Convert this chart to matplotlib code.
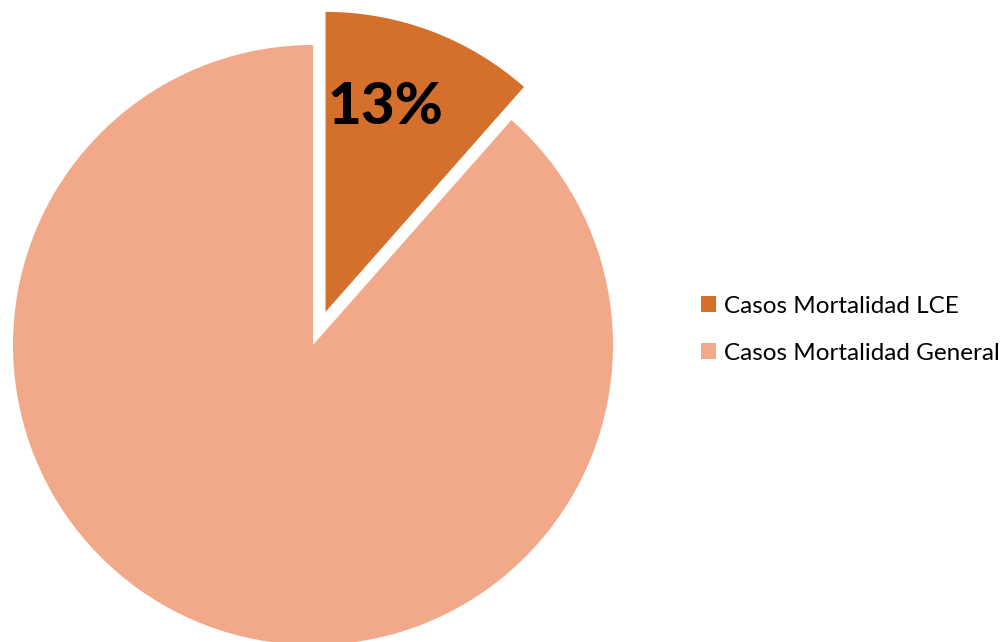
import matplotlib.pyplot as plt

labels = ["Casos Mortalidad LCE", "Casos Mortalidad General"]
values = [13, 100]
colors = ["#D4702C", "#F1A98A"]
pct_label = "13%"

plt.rcParams['font.family'] = ['Lato', 'DejaVu Sans']


def main():
    fig = plt.figure(facecolor='w', figsize=(10.06, 6.42), dpi=100)
    ax = fig.add_axes([0, 0, 1, 1])
    wedges, _ = ax.pie(values, colors=colors, startangle=90, counterclock=False,
                       explode=[0.118, 0], radius=1.0, center=(0, 0))
    # pixel-like frame: 300 px per radius, pie centre at (313, 345)
    ax.set_xlim(-313 / 300, (1006 - 313) / 300)
    ax.set_ylim((345 - 642) / 300, 345 / 300)
    ax.set_aspect('auto')
    ax.axis('off')
    ax.text((386 - 313) / 300, (345 - 108) / 300, pct_label, fontsize=42,
            fontweight='black', ha='center', va='center', color='black')
    ax.legend(wedges, labels, loc='center left', frameon=False,
              bbox_to_anchor=(0.675, 0.486), fontsize=17.5, handlelength=0.63,
              handleheight=0.63, handletextpad=0.3, labelspacing=1.07)
    fig.savefig("out.png", dpi=100)


if __name__ == "__main__":
    main()
